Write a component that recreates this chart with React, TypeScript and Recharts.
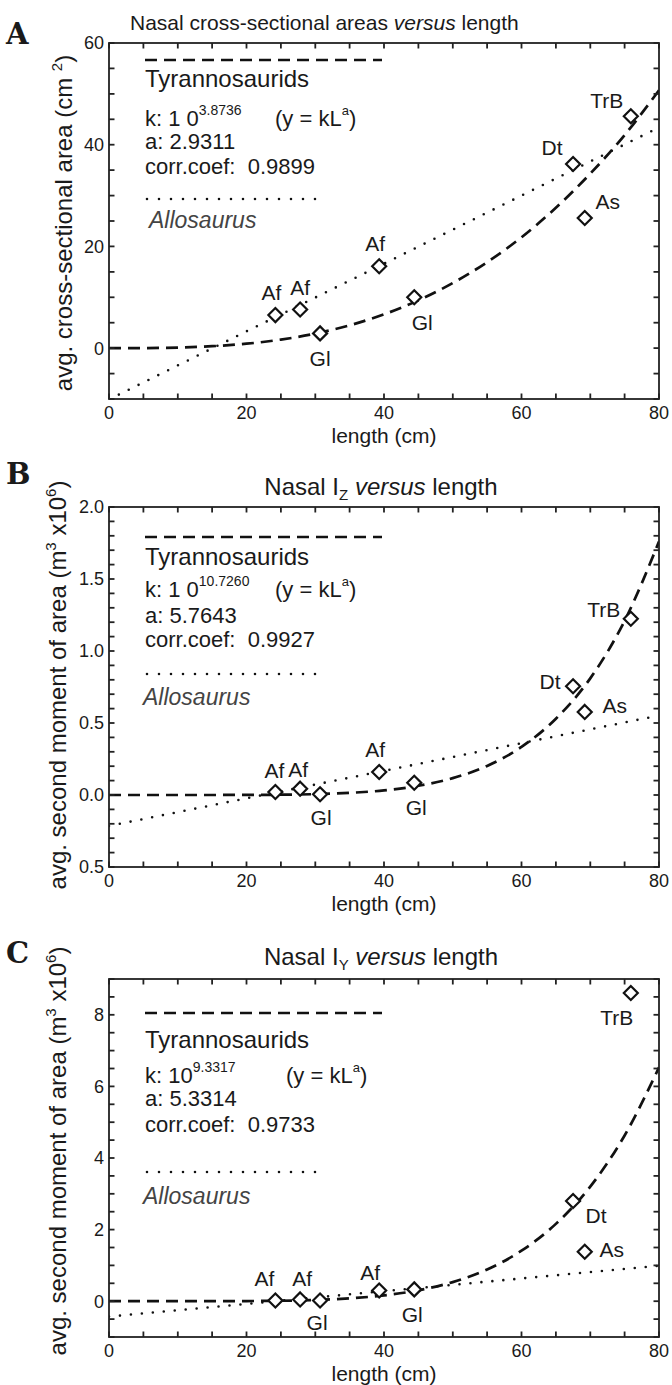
import React from 'react';
import { ComposedChart, Line, Scatter, XAxis, YAxis } from 'recharts';

const FONT = '"Liberation Sans", Arial, Helvetica, sans-serif';
const INK = '#1a1a1a';
const FRAME = '#222';

// ---------- data ----------
const specimenNames = ['Af', 'Af', 'Gl', 'Af', 'Gl', 'Dt', 'As', 'TrB'];
const specimenLength = [24.2, 27.8, 30.7, 39.3, 44.4, 67.5, 69.2, 75.9];
const areaValues = [6.5, 7.6, 2.9, 16.1, 10.0, 36.2, 25.6, 45.6];
const izValues = [0.021, 0.044, 0.005, 0.16, 0.085, 0.755, 0.577, 1.224];
const iyValues = [0.02, 0.05, 0.02, 0.3, 0.33, 2.8, 1.38, 8.61];

const curveLength = [0, 5, 10, 15, 20, 25, 30, 35, 40, 45, 50, 55, 60, 65, 70, 75, 80];
const areaTyrannosaurid = [0, 0.015, 0.11, 0.38, 0.87, 1.68, 2.86, 4.49, 6.65, 9.39, 12.8, 16.9, 21.8, 27.6, 34.3, 41.9, 50.7];
const izTyrannosaurid = [0, 0, 0, 0.0001, 0.0006, 0.002, 0.006, 0.015, 0.032, 0.064, 0.117, 0.202, 0.334, 0.53, 0.81, 1.21, 1.76];
const iyTyrannosaurid = [0, 0, 0, 0.001, 0.004, 0.013, 0.035, 0.08, 0.162, 0.304, 0.533, 0.886, 1.41, 2.16, 3.2, 4.63, 6.53];

const allosaurusLength = [0, 20, 40, 60, 80];
const areaAllosaurus = [-10.1, 3.3, 16.6, 30.0, 43.4];
const izAllosaurus = [-0.215, -0.023, 0.168, 0.36, 0.552];
const iyAllosaurus = [-0.43, -0.075, 0.28, 0.635, 0.99];

const xMajorTicks = [0, 20, 40, 60, 80];
const areaMajorTicks = [0, 20, 40, 60];
const izMajorTicks = [-0.5, 0, 0.5, 1, 1.5, 2];
const iyMajorTicks = [0, 2, 4, 6, 8];

// label placement (pixel offsets of each point's name) - styling only
const areaLabelOffsets = [[-4, -23], [0, -22], [0, 25], [-4, -23], [8, 25], [-21, -17], [23, -16], [-24, -16]];
const izLabelOffsets = [[-1, -21], [-2, -19], [1, 23], [-4, -22], [2, 25], [-23, -5], [30, -6], [-27, -9]];
const iyLabelOffsets = [[-11, -22], [2, -21], [-3, 22], [-9, -18], [-2, 25], [23, 15], [27, -2], [-14, 25]];

const steps = (a: number, b: number, s: number) => {
  const out: number[] = [];
  const n = Math.round((b - a) / s);
  for (let i = 0; i <= n; i++) out.push(+(a + i * s).toFixed(4));
  return out;
};

const X_DOMAIN: [number, number] = [0, 80];
const xTicks = steps(0, 80, 5);
const PLOT_LEFT = 109;
const PLOT_RIGHT = 659;

const toSeries = (xs: number[], ys: number[]) => xs.map((x, i) => ({ x, y: ys[i] }));
const toPoints = (ys: number[]) =>
  specimenLength.map((x, i) => ({ x, y: ys[i], name: specimenNames[i], i }));

const isMajor = (v: number, majors: number[]) => majors.some((m) => Math.abs(m - v) < 1e-6);

const makeShape = (offsets: number[][]) => (props: any) => {
  const { cx, cy, payload } = props;
  if (cx == null || cy == null) return <g />;
  const [dx, dy] = offsets[payload.i];
  const r = 7;
  return (
    <g>
      <path
        d={`M${cx},${cy - r}L${cx + r},${cy}L${cx},${cy + r}L${cx - r},${cy}Z`}
        fill="#fff"
        stroke="#111"
        strokeWidth={2.2}
      />
      <text
        x={cx + dx}
        y={cy + dy}
        textAnchor="middle"
        dominantBaseline="central"
        fontSize={21}
        fontFamily={FONT}
        fill={INK}
      >
        {payload.name}
      </text>
    </g>
  );
};

type PanelProps = {
  top: number;
  height: number;
  plotTop: number;
  plotBottom: number;
  yDomain: [number, number];
  yTicks: number[];
  yMajor: number[];
  yFormat: (v: number) => string;
  tyr: number[];
  allo: number[];
  points: number[];
  offsets: number[][];
};

// frame box with inward minor ticks on all four sides (axis decoration)
function Frame({ plotTop, plotBottom, yDomain, yTicks }: any) {
  const h = plotBottom - plotTop;
  const sx = (v: number) => PLOT_LEFT + ((v - X_DOMAIN[0]) / (X_DOMAIN[1] - X_DOMAIN[0])) * (PLOT_RIGHT - PLOT_LEFT);
  const sy = (v: number) => plotBottom - ((v - yDomain[0]) / (yDomain[1] - yDomain[0])) * h;
  const t = 5.5;
  const segs: React.ReactNode[] = [];
  xTicks.forEach((v, i) => {
    const x = Math.round(sx(v) * 10) / 10;
    segs.push(<line key={'xb' + i} x1={x} x2={x} y1={plotBottom} y2={plotBottom - t} stroke={FRAME} strokeWidth={1.8} />);
    segs.push(<line key={'xt' + i} x1={x} x2={x} y1={plotTop} y2={plotTop + t} stroke={FRAME} strokeWidth={1.8} />);
  });
  yTicks.forEach((v: number, i: number) => {
    const y = Math.round(sy(v) * 10) / 10;
    segs.push(<line key={'yl' + i} x1={PLOT_LEFT} x2={PLOT_LEFT + t} y1={y} y2={y} stroke={FRAME} strokeWidth={1.8} />);
    segs.push(<line key={'yr' + i} x1={PLOT_RIGHT} x2={PLOT_RIGHT - t} y1={y} y2={y} stroke={FRAME} strokeWidth={1.8} />);
  });
  return (
    <g>
      {segs}
      <rect x={PLOT_LEFT} y={plotTop} width={PLOT_RIGHT - PLOT_LEFT} height={h} fill="none" stroke={FRAME} strokeWidth={1.8} />
    </g>
  );
}

function Panel(p: PanelProps) {
  const xAxisH = 45;
  const marginTop = p.plotTop - p.top;
  const marginBottom = p.height - xAxisH - (p.plotBottom - p.top);
  const tickStyle = { fontSize: 18, fontFamily: FONT, fill: INK };
  return (
    <div style={{ position: 'absolute', left: 0, top: p.top, width: 672, height: p.height }}>
      <ComposedChart
        width={672}
        height={p.height}
        margin={{ top: marginTop, right: 672 - PLOT_RIGHT, bottom: marginBottom, left: 0 }}
      >
        <XAxis
          dataKey="x"
          type="number"
          domain={X_DOMAIN}
          ticks={xTicks}
          interval={0}
          height={xAxisH}
          tickSize={0}
          tickMargin={7}
          axisLine={false}
          tickLine={false}
          tickFormatter={(v: number) => (isMajor(v, xMajorTicks) ? String(v) : '')}
          tick={tickStyle}
          allowDataOverflow
        />
        <YAxis
          type="number"
          domain={p.yDomain}
          ticks={p.yTicks}
          interval={0}
          width={PLOT_LEFT}
          tickSize={0}
          tickMargin={5}
          axisLine={false}
          tickLine={false}
          tickFormatter={(v: number) => (isMajor(v, p.yMajor) ? p.yFormat(v) : '')}
          tick={tickStyle}
          allowDataOverflow
        />
        <Line
          data={toSeries(allosaurusLength, p.allo)}
          dataKey="y"
          type="linear"
          stroke="#111"
          strokeWidth={2.6}
          strokeDasharray="0 11"
          strokeLinecap="round"
          dot={false}
          isAnimationActive={false}
        />
        <Line
          data={toSeries(curveLength, p.tyr)}
          dataKey="y"
          type="monotone"
          stroke="#111"
          strokeWidth={2.7}
          strokeDasharray="12 7"
          dot={false}
          isAnimationActive={false}
        />
        <Scatter
          data={toPoints(p.points)}
          dataKey="y"
          shape={makeShape(p.offsets)}
          isAnimationActive={false}
        />
      </ComposedChart>
    </div>
  );
}

const Sup = ({ children, size = 14, rise = 11 }: any) => (
  <tspan fontSize={size} dy={-rise}>
    {children}
  </tspan>
);

function Legend({ kBase, kExp, a, r, kStart = 275, alloX = 149, lines }: any) {
  const [dashY, tyrY, kY, aY, rY, dotY, alloY] = lines;
  return (
    <g fontFamily={FONT} fill={INK}>
      <line x1={145} x2={382} y1={dashY} y2={dashY} stroke="#111" strokeWidth={2.7} strokeDasharray="12 7" />
      <text x={145} y={tyrY} fontSize={24}>Tyrannosaurids</text>
      <text x={145} y={kY} fontSize={22}>
        {kBase}
        <Sup>{kExp}</Sup>
      </text>
      <text x={kStart} y={kY} fontSize={22}>
        {'(y = kL'}
        <Sup size={13}>a</Sup>
        <tspan dy={11}>)</tspan>
      </text>
      <text x={145} y={aY} fontSize={22}>{a}</text>
      <text x={145} y={rY} fontSize={22}>{r}</text>
      <line x1={147} x2={318} y1={dotY} y2={dotY} stroke="#111" strokeWidth={2.6} strokeDasharray="0 12" strokeLinecap="round" />
      <text x={alloX} y={alloY} fontSize={23} fontStyle="italic" fill="#444">Allosaurus</text>
    </g>
  );
}

function YLabel({ x, y, size, children }: any) {
  return (
    <text transform={`translate(${x},${y}) rotate(-90)`} textAnchor="middle" fontSize={size} fontFamily={FONT} fill={INK}>
      {children}
    </text>
  );
}

const NBSP = '\u00a0';

function Overlay() {
  const letter = { fontFamily: '"DejaVu Serif", serif', fontWeight: 700, fontSize: 29, fill: INK } as any;
  return (
    <svg width={672} height={1385} style={{ position: 'absolute', left: 0, top: 0, pointerEvents: 'none', zIndex: 3 }}>
      <Frame plotTop={43} plotBottom={399} yDomain={[-10, 60]} yTicks={steps(-10, 60, 5)} />
      <Frame plotTop={507} plotBottom={867} yDomain={[-0.5, 2]} yTicks={steps(-0.5, 2, 0.1)} />
      <Frame plotTop={979} plotBottom={1337} yDomain={[-1, 9]} yTicks={steps(-1, 9, 0.5)} />

      {/* Panel A */}
      <text x={6} y={44} style={letter}>A</text>
      <text x={130} y={30} fontSize={21} fontFamily={FONT} fill={INK}>
        Nasal cross-sectional areas <tspan fontStyle="italic">versus</tspan> length
      </text>
      <YLabel x={72} y={223} size={24}>
        {`avg. cross-sectional area (cm${NBSP}`}
        <Sup size={15} rise={10}>2</Sup>
        <tspan dy={10}>)</tspan>
      </YLabel>
      <text x={384} y={443} textAnchor="middle" fontSize={21} fontFamily={FONT} fill={INK}>length (cm)</text>
      <Legend
        kBase={`k: 1${NBSP}0`} kExp="3.8736" a="a: 2.9311" r={`corr.coef:${NBSP} 0.9899`}
        lines={[60, 87, 126, 149, 174, 199, 228]}
      />

      {/* Panel B */}
      <text x={6} y={484} style={letter}>B</text>
      <text x={381} y={495} textAnchor="middle" fontSize={24} fontFamily={FONT} fill={INK}>
        Nasal I<tspan fontSize={15} dy={5}>Z</tspan>
        <tspan dy={-5}> </tspan>
        <tspan fontStyle="italic">versus</tspan> length
      </text>
      <YLabel x={66} y={685} size={24}>
        {'avg. second moment of area (m'}
        <Sup size={15} rise={10}>3</Sup>
        <tspan dy={10}>{`${NBSP}x10`}</tspan>
        <Sup size={15} rise={10}>6</Sup>
        <tspan dy={10}>)</tspan>
      </YLabel>
      <text x={384} y={911} textAnchor="middle" fontSize={21} fontFamily={FONT} fill={INK}>length (cm)</text>
      <Legend
        kBase={`k: 1${NBSP}0`} kExp="10.7260" a="a: 5.7643" r={`corr.coef:${NBSP} 0.9927`} alloX={143}
        lines={[537, 565, 597, 623, 647, 674, 705]}
      />

      {/* Panel C */}
      <text x={6} y={963} style={letter}>C</text>
      <text x={381} y={965} textAnchor="middle" fontSize={24} fontFamily={FONT} fill={INK}>
        Nasal I<tspan fontSize={15} dy={5}>Y</tspan>
        <tspan dy={-5}> </tspan>
        <tspan fontStyle="italic">versus</tspan> length
      </text>
      <YLabel x={66} y={1151} size={24}>
        {'avg. second moment of area (m'}
        <Sup size={15} rise={10}>3</Sup>
        <tspan dy={10}>{`${NBSP}x10`}</tspan>
        <Sup size={15} rise={10}>6</Sup>
        <tspan dy={10}>)</tspan>
      </YLabel>
      <text x={384} y={1381} textAnchor="middle" fontSize={21} fontFamily={FONT} fill={INK}>length (cm)</text>
      <Legend
        kBase="k: 10" kExp="9.3317" a="a: 5.3314" r={`corr.coef:${NBSP} 0.9733`} kStart={286} alloX={143}
        lines={[1013, 1048, 1083, 1106, 1132, 1172, 1204]}
      />
    </svg>
  );
}

export default function App() {
  return (
    <div style={{ position: 'absolute', left: 0, top: 0, width: 672, height: 1385, background: '#fff', overflow: 'hidden' }}>
      <Panel
        top={0}
        height={455}
        plotTop={43}
        plotBottom={399}
        yDomain={[-10, 60]}
        yTicks={steps(-10, 60, 5)}
        yMajor={areaMajorTicks}
        yFormat={(v) => String(v)}
        tyr={areaTyrannosaurid}
        allo={areaAllosaurus}
        points={areaValues}
        offsets={areaLabelOffsets}
      />
      <Panel
        top={455}
        height={470}
        plotTop={507}
        plotBottom={867}
        yDomain={[-0.5, 2]}
        yTicks={steps(-0.5, 2, 0.1)}
        yMajor={izMajorTicks}
        yFormat={(v) => Math.abs(v).toFixed(1)}
        tyr={izTyrannosaurid}
        allo={izAllosaurus}
        points={izValues}
        offsets={izLabelOffsets}
      />
      <Panel
        top={930}
        height={455}
        plotTop={979}
        plotBottom={1337}
        yDomain={[-1, 9]}
        yTicks={steps(-1, 9, 0.5)}
        yMajor={iyMajorTicks}
        yFormat={(v) => String(v)}
        tyr={iyTyrannosaurid}
        allo={iyAllosaurus}
        points={iyValues}
        offsets={iyLabelOffsets}
      />
      <Overlay />
    </div>
  );
}
